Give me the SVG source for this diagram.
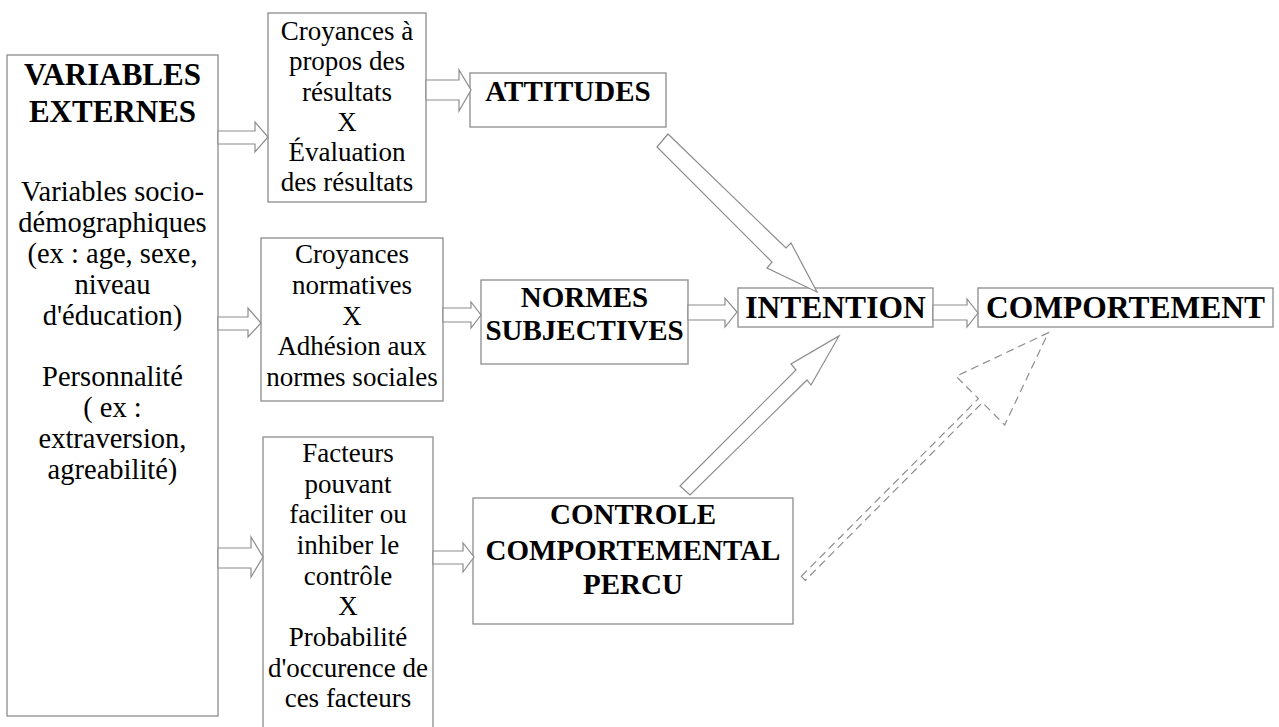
<svg xmlns="http://www.w3.org/2000/svg" width="1279" height="727" viewBox="0 0 1279 727">
<style>
.box{fill:#fff;stroke:#8c8c8c;stroke-width:1.3}
.arr{fill:#fff;stroke:#8c8c8c;stroke-width:1.2;stroke-linejoin:miter}
.dash{fill:none;stroke:#8c8c8c;stroke-width:1.2;stroke-dasharray:8 5}
text{font-family:"Liberation Serif","Times New Roman",serif;fill:#000;text-anchor:middle}
.r{font-size:27px}
.rv{font-size:28.5px}
.b{font-weight:bold;font-size:29px}
.bl{font-weight:bold;font-size:31.5px}
</style>
<rect width="1279" height="727" fill="#fff"/>
<g id="variables-externes">
<rect class="box" x="7" y="55" width="211" height="661"/>
<text class="bl" x="112.5" y="85" style="font-size:31px">VARIABLES</text>
<text class="bl" x="112.5" y="122" style="font-size:31px">EXTERNES</text>
<text class="rv" x="112.5" y="201">Variables socio-</text>
<text class="rv" x="112.5" y="232">démographiques</text>
<text class="rv" x="112.5" y="263">(ex : age, sexe,</text>
<text class="rv" x="112.5" y="294">niveau</text>
<text class="rv" x="112.5" y="325">d'éducation)</text>
<text class="rv" x="112.5" y="386">Personnalité</text>
<text class="rv" x="112.5" y="417">( ex :</text>
<text class="rv" x="112.5" y="448">extraversion,</text>
<text class="rv" x="112.5" y="479">agreabilité)</text>
</g>
<g id="croyances-resultats">
<rect class="box" x="268" y="13" width="158" height="189"/>
<text class="r" x="347" y="40">Croyances à</text>
<text class="r" x="347" y="70">propos des</text>
<text class="r" x="347" y="100.5">résultats</text>
<text class="r" x="347" y="131">X</text>
<text class="r" x="347" y="161">Évaluation</text>
<text class="r" x="347" y="191">des résultats</text>
</g>
<g id="attitudes">
<rect class="box" x="470" y="73" width="196" height="54"/>
<text class="b" x="568" y="101">ATTITUDES</text>
</g>
<g id="croyances-normatives">
<rect class="box" x="261" y="238" width="182" height="163"/>
<text class="r" x="352" y="263">Croyances</text>
<text class="r" x="352" y="294">normatives</text>
<text class="r" x="352" y="324.5">X</text>
<text class="r" x="352" y="355">Adhésion aux</text>
<text class="r" x="352" y="385.5">normes sociales</text>
</g>
<g id="normes-subjectives">
<rect class="box" x="481" y="280" width="207" height="84"/>
<text class="b" x="584.5" y="307">NORMES</text>
<text class="b" x="584.5" y="340">SUBJECTIVES</text>
</g>
<g id="facteurs">
<rect class="box" x="263" y="437" width="170" height="300"/>
<text class="r" x="348" y="462">Facteurs</text>
<text class="r" x="348" y="492.5">pouvant</text>
<text class="r" x="348" y="523">faciliter ou</text>
<text class="r" x="348" y="553.5">inhiber le</text>
<text class="r" x="348" y="584.5">contrôle</text>
<text class="r" x="348" y="615">X</text>
<text class="r" x="348" y="646">Probabilité</text>
<text class="r" x="348" y="676.5">d'occurence de</text>
<text class="r" x="348" y="707">ces facteurs</text>
</g>
<g id="controle">
<rect class="box" x="473" y="498" width="320" height="126"/>
<text class="b" x="633" y="524">CONTROLE</text>
<text class="b" x="633" y="560">COMPORTEMENTAL</text>
<text class="b" x="633" y="594">PERCU</text>
</g>
<g id="intention">
<rect class="box" x="738" y="288" width="195" height="39"/>
<text class="bl" x="835.5" y="318">INTENTION</text>
</g>
<g id="comportement">
<rect class="box" x="978" y="288" width="295" height="39"/>
<text class="bl" x="1125.5" y="318">COMPORTEMENT</text>
</g>
<g id="connectors">
<polygon class="arr" points="218,131 255,131 255,122 268,137 255,152 255,144 218,144"/>
<polygon class="arr" points="426,80 459,80 459,70 471,90 459,111 459,100 426,100"/>
<polygon class="arr" points="218,317 248,317 248,308 261,323 248,337 248,330 218,330"/>
<polygon class="arr" points="443,308 471,308 471,302 481,315 471,328 471,322 443,322"/>
<polygon class="arr" points="688,305 725,305 725,298 737,312 725,327 725,320 688,320"/>
<polygon class="arr" points="933,305 967,305 967,299 978,313 967,327 967,320 933,320"/>
<polygon class="arr" points="218,548 251,548 251,537 263,557 251,577 251,568 218,568"/>
<polygon class="arr" points="433,551 463,551 463,543 474,557 463,572 463,564 433,564"/>
<polygon class="arr" points="668,134 786,248 791,243 817,292 767,268 772,262 657,147"/>
<polygon class="arr" points="680,486 796,370 791,364 839,336 811,385 807,380 690,495"/>
<polygon class="dash" points="801.3,576.3 978.4,398.6 956.1,376.3 1048.3,332.7 1004.7,424.9 982.4,402.6 805.3,580.3"/>
</g>
</svg>
